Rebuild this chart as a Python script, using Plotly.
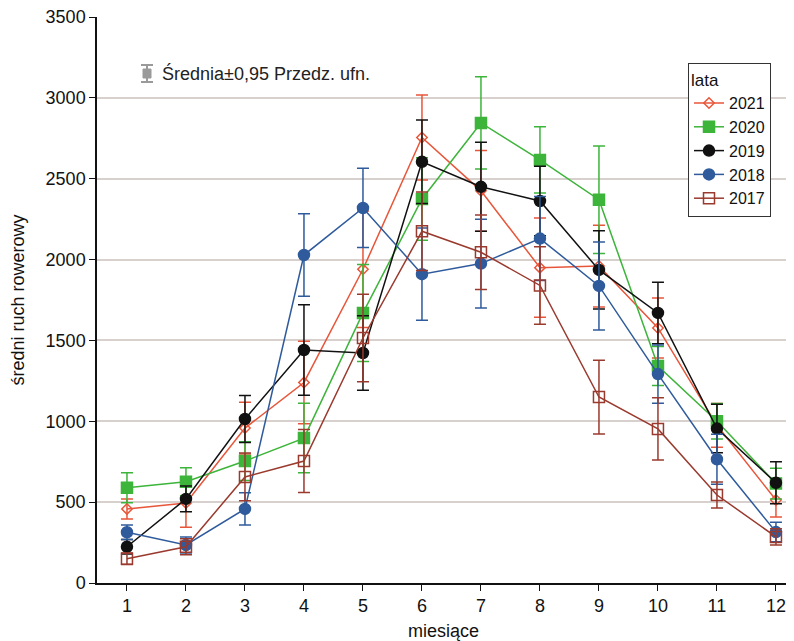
import plotly.graph_objects as go

months = list(range(1, 13))
years = ["2021", "2020", "2019", "2018", "2017"]

mean_2021 = [458, 495, 958, 1240, 1940, 2755, 2425, 1950, 1960, 1577, 975, 513]
ci_2021 = [62, 150, 160, 255, 360, 263, 250, 307, 253, 185, 135, 105]
mean_2020 = [589, 626, 754, 896, 1670, 2375, 2845, 2616, 2370, 1342, 1000, 615]
ci_2020 = [93, 87, 120, 215, 300, 255, 285, 205, 333, 120, 110, 95]
mean_2019 = [224, 520, 1014, 1441, 1422, 2605, 2450, 2362, 1936, 1670, 955, 620]
ci_2019 = [45, 80, 145, 280, 230, 258, 275, 215, 242, 190, 150, 130]
mean_2018 = [314, 235, 458, 2028, 2319, 1910, 1975, 2130, 1837, 1292, 765, 315]
ci_2018 = [45, 50, 100, 255, 245, 285, 275, 260, 272, 180, 155, 60]
mean_2017 = [150, 224, 656, 754, 1515, 2175, 2045, 1840, 1150, 953, 544, 285]
ci_2017 = [35, 50, 148, 195, 270, 243, 230, 240, 228, 193, 80, 50]

means = [mean_2021, mean_2020, mean_2019, mean_2018, mean_2017]
cis = [ci_2021, ci_2020, ci_2019, ci_2018, ci_2017]
colors = ["#E8563A", "#3DB43A", "#111111", "#2F5B9C", "#9A3A2E"]
symbols = ["diamond-open", "square", "circle", "circle", "square-open"]
sizes = [8, 11, 11, 11, 11]

fig = go.Figure()
for name, m, c, col, sym, sz in zip(years, means, cis, colors, symbols, sizes):
    fig.add_trace(go.Scatter(
        x=months, y=m, name=name, mode="lines+markers",
        line=dict(color=col, width=1.5),
        marker=dict(symbol=sym, size=sz, color=col,
                    line=dict(color=col, width=1.5)),
        error_y=dict(type="data", array=c, visible=True, color=col,
                     thickness=1.5, width=6),
    ))

# page body has an 8px margin in the browser
OFF = 8
W, H = 794 - OFF, 641 - OFF
L, R, T, B = 97 - OFF, 4, 17 - OFF, 58
pw, ph = W - L - R, H - T - B


def px(x):
    return (x - OFF - L) / pw


def py(y):
    return (H - B - (y - OFF)) / ph


icon_col = "#9a9a9a"
shapes = [
    dict(type="line", xref="paper", yref="paper", x0=px(147), x1=px(147),
         y0=py(65), y1=py(82), line=dict(color=icon_col, width=2)),
    dict(type="line", xref="paper", yref="paper", x0=px(141), x1=px(153),
         y0=py(65), y1=py(65), line=dict(color=icon_col, width=2)),
    dict(type="line", xref="paper", yref="paper", x0=px(141), x1=px(153),
         y0=py(82), y1=py(82), line=dict(color=icon_col, width=2)),
    dict(type="rect", xref="paper", yref="paper", x0=px(143), x1=px(151),
         y0=py(78), y1=py(69), line=dict(color=icon_col, width=1),
         fillcolor=icon_col),
]

fig.update_layout(
    width=W, height=H,
    margin=dict(l=L, r=R, t=T, b=B, autoexpand=False),
    paper_bgcolor="white", plot_bgcolor="white",
    font=dict(family="Liberation Sans, Arial, sans-serif", size=18, color="#111"),
    showlegend=True,
    legend=dict(
        title=dict(text="lata", font=dict(size=17)),
        x=px(688), y=py(63), xanchor="left", yanchor="top",
        bordercolor="#333", borderwidth=1, bgcolor="white",
        font=dict(size=16), tracegroupgap=0, itemwidth=30,
    ),
    shapes=shapes,
    annotations=[
        dict(text="Średnia±0,95 Przedz. ufn.", xref="paper", yref="paper",
             x=px(160), y=py(73), xanchor="left", yanchor="middle",
             showarrow=False, font=dict(size=18, color="#222")),
    ],
)
fig.update_xaxes(
    range=[0.492, 12.238], tickmode="array", tickvals=months,
    ticktext=[str(m) for m in months], tickfont=dict(size=18),
    showline=True, linecolor="#111", linewidth=1.5,
    ticks="outside", ticklen=6, tickcolor="#111",
    showgrid=False, zeroline=False, automargin=False,
    ticklabeloverflow="allow",
    title=dict(text="miesiące", font=dict(size=18), standoff=9),
)
fig.update_yaxes(
    range=[0, 3500], tickmode="array", tickvals=list(range(0, 3501, 500)),
    tickfont=dict(size=18),
    showline=True, linecolor="#111", linewidth=1.5,
    ticks="outside", ticklen=6, tickcolor="#111",
    showgrid=True, gridcolor="#d8d0cc", gridwidth=1.5, zeroline=False,
    automargin=False, ticklabeloverflow="allow",
    title=dict(text="średni ruch rowerowy", font=dict(size=18), standoff=22),
)

fig.write_html("out.html")
